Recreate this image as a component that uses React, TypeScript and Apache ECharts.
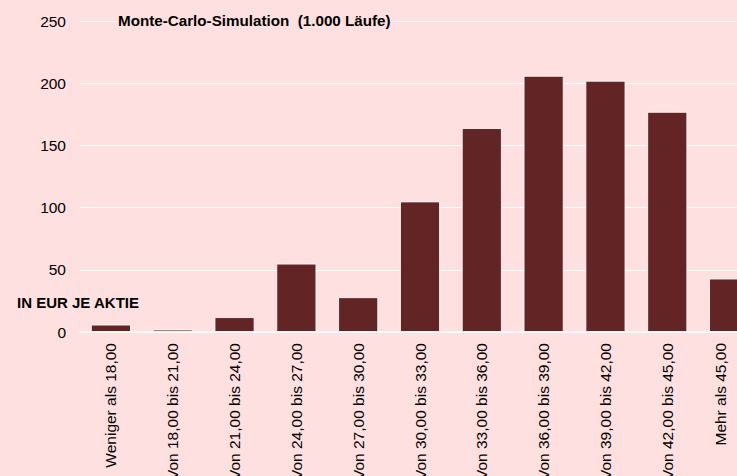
import React, { useEffect, useRef } from "react";
import * as echarts from "echarts";

const categories = [
  "Weniger als 18,00",
  "Von 18,00 bis 21,00",
  "Von 21,00 bis 24,00",
  "Von 24,00 bis 27,00",
  "Von 27,00 bis 30,00",
  "Von 30,00 bis 33,00",
  "Von 33,00 bis 36,00",
  "Von 36,00 bis 39,00",
  "Von 39,00 bis 42,00",
  "Von 42,00 bis 45,00",
  "Mehr als 45,00",
];
const counts = [6, 2, 12, 55, 28, 105, 164, 206, 202, 177, 43];
const titleText = "Monte-Carlo-Simulation  (1.000 Läufe)";
const unitText = "IN EUR JE AKTIE";

const FONT = "'Liberation Sans', Arial, sans-serif";

export default function App() {
  const ref = useRef<HTMLDivElement>(null);
  useEffect(() => {
    if (!ref.current) return;
    const chart = echarts.init(ref.current, null, { renderer: "svg" });
    const last = categories.length - 1;
    chart.setOption({
      animation: false,
      backgroundColor: "#FFE0E0",
      textStyle: { fontFamily: FONT },
      graphic: [
        {
          type: "text",
          left: 118,
          top: 13,
          z: 11,
          style: {
            text: titleText,
            font: "bold 15.2px " + FONT,
            fill: "#000",
            backgroundColor: "#FFE0E0",
          },
        },
        {
          type: "text",
          left: 17,
          top: 295,
          z: 11,
          style: {
            text: unitText,
            font: "bold 15px " + FONT,
            fill: "#000",
          },
        },
      ],
      grid: {
        left: 80,
        top: 21,
        width: 680,
        height: 311,
        containLabel: false,
        outerBoundsMode: "none",
      },
      xAxis: {
        type: "category",
        data: categories,
        axisLine: { show: true, lineStyle: { color: "#FFFFFF", width: 1.5 } },
        axisTick: { show: false },
        axisLabel: {
          rotate: 90,
          fontSize: 15.5,
          color: "#000",
          margin: 11,
          interval: 0,
          fontFamily: FONT,
          formatter: (v: string, i: number) => (i === last ? `{m|${v}}` : v),
          rich: {
            m: {
              fontSize: 15.5,
              fontFamily: FONT,
              color: "#000",
              padding: [0, 0, 18, 0],
            },
          },
        },
      },
      yAxis: {
        type: "value",
        min: 0,
        max: 250,
        interval: 50,
        axisLine: { show: false },
        axisTick: { show: false },
        splitLine: { lineStyle: { color: "#FFFFFF", width: 1 } },
        axisLabel: {
          fontSize: 15.5,
          color: "#000",
          margin: 14,
          fontFamily: FONT,
        },
      },
      series: [
        {
          type: "bar",
          data: counts,
          barCategoryGap: "35%",
          itemStyle: {
            color: "#632426",
            borderColor: "rgba(255,255,255,0.85)",
            borderWidth: 1,
          },
        },
      ],
    });
    return () => chart.dispose();
  }, []);
  return (
    <div
      ref={ref}
      style={{ position: "fixed", left: 0, top: 0, width: 770, height: 476 }}
    />
  );
}
